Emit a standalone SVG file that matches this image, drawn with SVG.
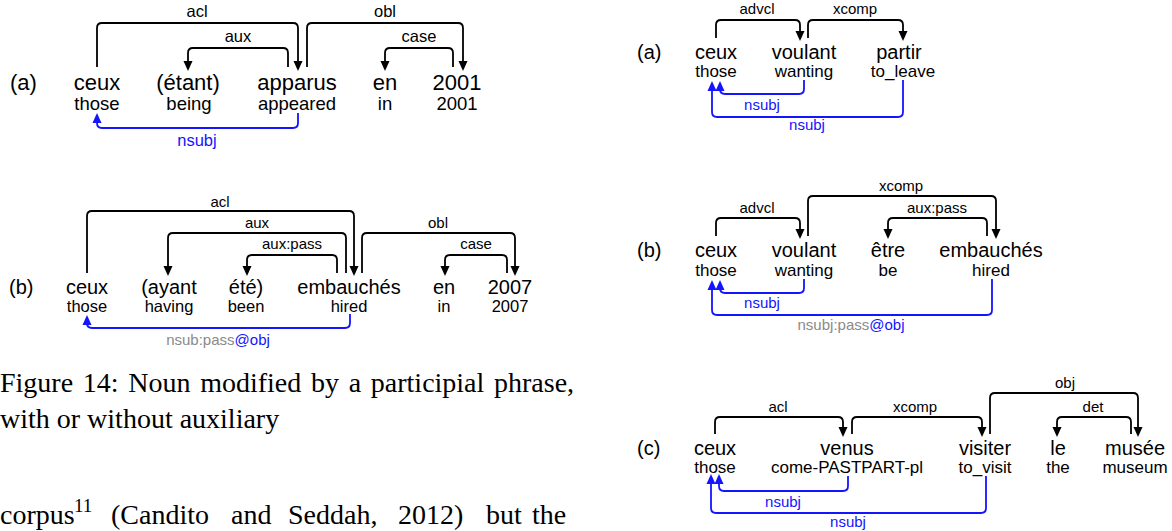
<svg xmlns="http://www.w3.org/2000/svg" width="1172" height="531" viewBox="0 0 1172 531">
<style>
text{font-family:"Liberation Sans",Arial,sans-serif;fill:#000}
.w{text-anchor:middle}
.a1{font-size:22px}.g1{font-size:18.5px}.l1{font-size:16.5px}
.a2{font-size:20px}.g2{font-size:16.5px}.l2{font-size:15px}
.g3{font-size:17px}
.lab{text-anchor:middle}
.blue{fill:#1414ff}
.grey{fill:#8a8a8a}
.arc{fill:none;stroke:#000;stroke-width:1.8;marker-end:url(#ah)}
.barc{fill:none;stroke:#1414ff;stroke-width:1.8;marker-end:url(#bh)}
.cap{font-family:"Liberation Serif","Times New Roman",serif;font-size:28px;fill:#000}
</style>
<defs>
<marker id="ah" markerUnits="userSpaceOnUse" markerWidth="10" markerHeight="10" viewBox="0 0 8 8" refX="4" refY="4" orient="auto"><path d="M0,0.4 L8,4 L0,7.6 z" fill="#000"/></marker>
<marker id="bh" markerUnits="userSpaceOnUse" markerWidth="10" markerHeight="10" viewBox="0 0 8 8" refX="4" refY="4" orient="auto"><path d="M0,0.4 L8,4 L0,7.6 z" fill="#1414ff"/></marker>
</defs>

<!-- Left (a) -->
<text id="la-label" class="a1" x="10" y="90">(a)</text>
<g id="la-ceux"><text class="w a1" x="97" y="90">ceux</text><text class="w g1" x="97" y="110">those</text></g>
<g id="la-etant"><text class="w a1" x="188" y="90">(étant)</text><text class="w g1" x="189" y="110">being</text></g>
<g id="la-apparus"><text class="w a1" x="297" y="90">apparus</text><text class="w g1" x="297" y="110">appeared</text></g>
<g id="la-en"><text class="w a1" x="385" y="90">en</text><text class="w g1" x="385" y="110">in</text></g>
<g id="la-2001"><text class="w a1" x="457" y="90">2001</text><text class="w g1" x="457" y="110">2001</text></g>

<!-- Left (b) -->
<text id="lb-label" class="a2" x="9" y="294">(b)</text>
<g id="lb-ceux"><text class="w a2" x="87" y="294">ceux</text><text class="w g2" x="87" y="312">those</text></g>
<g id="lb-ayant"><text class="w a2" x="169" y="294">(ayant</text><text class="w g2" x="169" y="312">having</text></g>
<g id="lb-ete"><text class="w a2" x="246" y="294">été)</text><text class="w g2" x="246" y="312">been</text></g>
<g id="lb-embauches"><text class="w a2" x="349" y="294">embauchés</text><text class="w g2" x="349" y="312">hired</text></g>
<g id="lb-en"><text class="w a2" x="444" y="294">en</text><text class="w g2" x="444" y="312">in</text></g>
<g id="lb-2007"><text class="w a2" x="510" y="294">2007</text><text class="w g2" x="510" y="312">2007</text></g>

<!-- Right (a) -->
<text id="ra-label" class="a2" x="637" y="59">(a)</text>
<g id="ra-ceux"><text class="w a2" x="716" y="59">ceux</text><text class="w g3" x="716" y="77">those</text></g>
<g id="ra-voulant"><text class="w a2" x="804" y="59">voulant</text><text class="w g3" x="804" y="77">wanting</text></g>
<g id="ra-partir"><text class="w a2" x="899" y="59">partir</text><text class="w g3" x="903" y="77">to_leave</text></g>

<!-- Right (b) -->
<text id="rb-label" class="a2" x="637" y="257">(b)</text>
<g id="rb-ceux"><text class="w a2" x="716" y="257">ceux</text><text class="w g3" x="716" y="276">those</text></g>
<g id="rb-voulant"><text class="w a2" x="804" y="257">voulant</text><text class="w g3" x="804" y="276">wanting</text></g>
<g id="rb-etre"><text class="w a2" x="888" y="257">être</text><text class="w g3" x="888" y="276">be</text></g>
<g id="rb-embauches"><text class="w a2" x="991" y="257">embauchés</text><text class="w g3" x="991" y="276">hired</text></g>

<!-- Right (c) -->
<text id="rc-label" class="a2" x="637" y="455">(c)</text>
<g id="rc-ceux"><text class="w a2" x="715" y="455">ceux</text><text class="w g3" x="715" y="473">those</text></g>
<g id="rc-venus"><text class="w a2" x="847" y="455">venus</text><text class="w g3" x="847" y="473">come-PASTPART-pl</text></g>
<g id="rc-visiter"><text class="w a2" x="985" y="455">visiter</text><text class="w g3" x="985" y="473">to_visit</text></g>
<g id="rc-le"><text class="w a2" x="1058" y="455">le</text><text class="w g3" x="1058" y="473">the</text></g>
<g id="rc-musee"><text class="w a2" x="1135" y="455">musée</text><text class="w g3" x="1135" y="473">museum</text></g>

<g id="connectors">
<!-- left (a) -->
<path class="arc" d="M97,67 V28 Q97,23 102,23 H293 Q298,23 298,28 V66"/>
<path class="arc" d="M288,67 V53 Q288,48 283,48 H193 Q188,48 188,53 V66"/>
<path class="arc" d="M307,67 V28 Q307,23 312,23 H458 Q463,23 463,28 V66"/>
<path class="arc" d="M453,67 V53 Q453,48 448,48 H390 Q385,48 385,53 V66"/>
<path class="barc" d="M298,113 V123 Q298,128 293,128 H102 Q97,128 97,123 V118"/>
<text class="lab l1" x="197" y="17">acl</text>
<text class="lab l1" x="238" y="42">aux</text>
<text class="lab l1" x="385" y="17">obl</text>
<text class="lab l1" x="419" y="42">case</text>
<text class="lab l1 blue" x="197" y="146">nsubj</text>
<!-- left (b) -->
<path class="arc" d="M87,273 V216 Q87,211 92,211 H349 Q354,211 354,216 V271"/>
<path class="arc" d="M346,273 V238 Q346,233 341,233 H173 Q168,233 168,238 V271"/>
<path class="arc" d="M337,273 V260 Q337,255 332,255 H252 Q247,255 247,260 V271"/>
<path class="arc" d="M362,273 V238 Q362,233 367,233 H510 Q515,233 515,238 V271"/>
<path class="arc" d="M507,273 V260 Q507,255 502,255 H450 Q445,255 445,260 V271"/>
<path class="barc" d="M350,314 V323 Q350,328 345,328 H92 Q87,328 87,323 V320"/>
<text class="lab l2" x="220" y="207">acl</text>
<text class="lab l2" x="257" y="228">aux</text>
<text class="lab l2" x="292" y="249">aux:pass</text>
<text class="lab l2" x="438" y="228">obl</text>
<text class="lab l2" x="476" y="249">case</text>
<text class="lab l2" x="218" y="345"><tspan class="grey">nsub:pass</tspan><tspan class="blue">@obj</tspan></text>
<!-- right (a) -->
<path class="arc" d="M716,38 V25 Q716,20 721,20 H795 Q800,20 800,25 V36"/>
<path class="arc" d="M808,38 V25 Q808,20 813,20 H898 Q903,20 903,25 V36"/>
<path class="barc" d="M804,80 V89 Q804,94 799,94 H725 Q720,94 720,89 V86"/>
<path class="barc" d="M903,80 V112 Q903,117 898,117 H717 Q712,117 712,112 V86"/>
<text class="lab l2" x="757" y="14">advcl</text>
<text class="lab l2" x="855" y="14">xcomp</text>
<text class="lab l2 blue" x="762" y="110">nsubj</text>
<text class="lab l2 blue" x="807" y="130">nsubj</text>
<!-- right (b) -->
<path class="arc" d="M716,236 V223 Q716,218 721,218 H795 Q800,218 800,223 V234"/>
<path class="arc" d="M808,236 V201 Q808,196 813,196 H991 Q996,196 996,201 V234"/>
<path class="arc" d="M987,236 V223 Q987,218 982,218 H893 Q888,218 888,223 V234"/>
<path class="barc" d="M804,279 V288 Q804,293 799,293 H725 Q720,293 720,288 V285"/>
<path class="barc" d="M992,279 V310 Q992,315 987,315 H717 Q712,315 712,310 V285"/>
<text class="lab l2" x="757" y="213">advcl</text>
<text class="lab l2" x="901" y="191">xcomp</text>
<text class="lab l2" x="937" y="213">aux:pass</text>
<text class="lab l2 blue" x="762" y="308">nsubj</text>
<text class="lab l2" x="851" y="330"><tspan class="grey">nsubj:pass</tspan><tspan class="blue">@obj</tspan></text>
<!-- right (c) -->
<path class="arc" d="M715,434 V422 Q715,417 720,417 H838 Q843,417 843,422 V432"/>
<path class="arc" d="M852,434 V422 Q852,417 857,417 H977 Q982,417 982,422 V432"/>
<path class="arc" d="M990,434 V398 Q990,393 995,393 H1133 Q1138,393 1138,398 V432"/>
<path class="arc" d="M1131,434 V422 Q1131,417 1126,417 H1062 Q1057,417 1057,422 V432"/>
<path class="barc" d="M848,476 V486 Q848,491 843,491 H724 Q719,491 719,486 V479"/>
<path class="barc" d="M986,476 V508 Q986,513 981,513 H716 Q711,513 711,508 V479"/>
<text class="lab l2" x="778" y="412">acl</text>
<text class="lab l2" x="915" y="412">xcomp</text>
<text class="lab l2" x="1065" y="388">obj</text>
<text class="lab l2" x="1093" y="412">det</text>
<text class="lab l2 blue" x="783" y="507">nsubj</text>
<text class="lab l2 blue" x="848" y="527">nsubj</text>
</g>

<g id="caption">
<text class="cap" x="0" y="392" word-spacing="2.7">Figure 14: Noun modified by a participial phrase,</text>
<text class="cap" x="0" y="428">with or without auxiliary</text>
<text class="cap" y="524"><tspan x="0">corpus</tspan><tspan x="74" y="512" font-size="19">11</tspan><tspan x="111" y="524">(Candito</tspan><tspan x="231">and</tspan><tspan x="288">Seddah,</tspan><tspan x="398">2012)</tspan><tspan x="486">but</tspan><tspan x="532">the</tspan></text>
</g>
</svg>
